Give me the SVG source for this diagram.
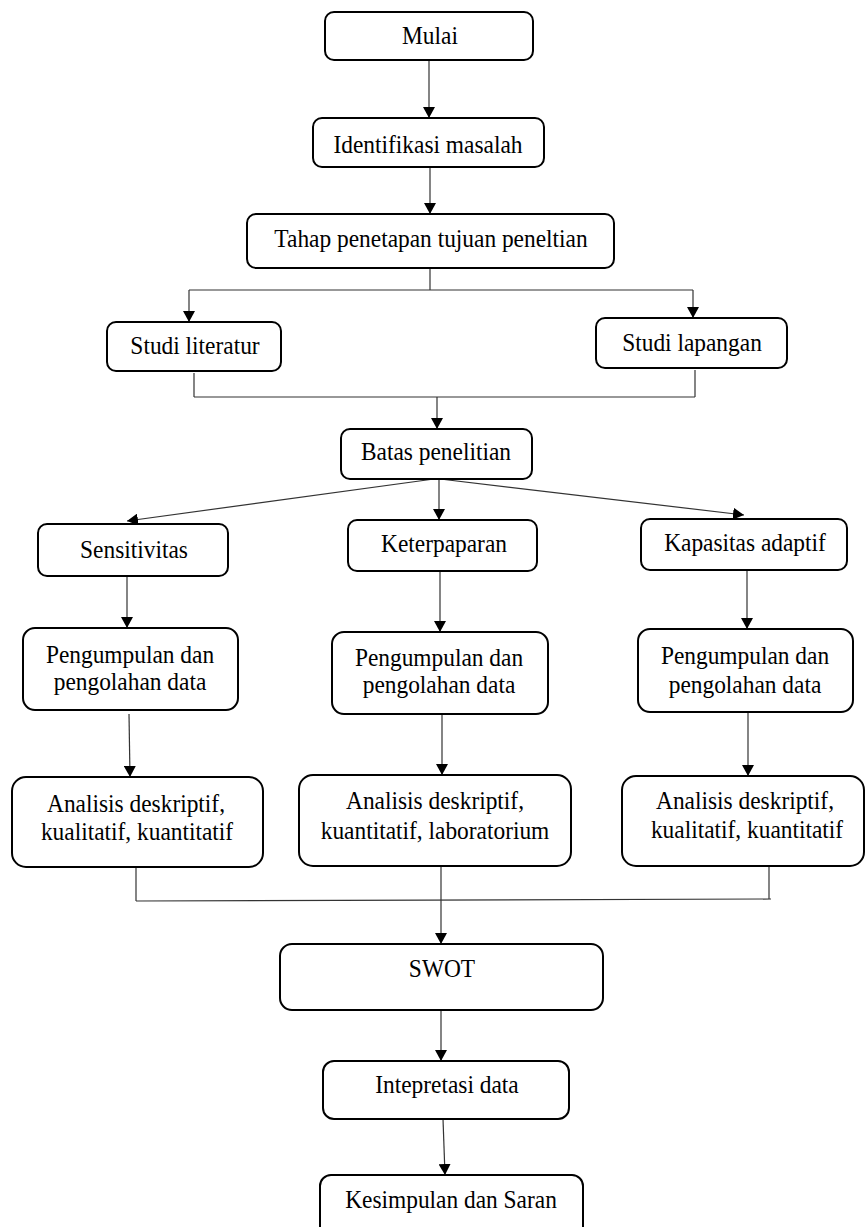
<svg xmlns="http://www.w3.org/2000/svg" width="866" height="1227" viewBox="0 0 866 1227">
<style>
.box{fill:#fff;stroke:#000;stroke-width:2}
.t{font-size:26px;fill:#000;text-anchor:middle}
.c{fill:none;stroke:#333;stroke-width:1.2}
.a{fill:none;stroke:#333;stroke-width:1.2;marker-end:url(#ah)}
</style>
<defs>
<marker id="ah" markerUnits="userSpaceOnUse" markerWidth="12" markerHeight="12" refX="11" refY="6" orient="auto">
<path d="M0,0 L11,6 L0,12 z" fill="#000"/>
</marker>
</defs>
<rect width="866" height="1227" fill="#fff"/>
<g id="connectors">
<line class="a" x1="429" y1="60" x2="429" y2="118"/>
<line class="a" x1="430" y1="167" x2="430" y2="214"/>
<polyline class="c" points="430,268 430,290"/>
<line class="c" x1="189" y1="290" x2="693" y2="290"/>
<line class="a" x1="189" y1="290" x2="189" y2="322"/>
<line class="a" x1="693" y1="290" x2="693" y2="318"/>
<line class="c" x1="194" y1="373" x2="194" y2="397"/>
<line class="c" x1="695" y1="370" x2="695" y2="397"/>
<line class="c" x1="194" y1="397" x2="695" y2="397"/>
<line class="a" x1="437" y1="397" x2="437" y2="429"/>
<line class="a" x1="434" y1="479" x2="127" y2="521"/>
<line class="a" x1="439" y1="479" x2="439" y2="520"/>
<line class="a" x1="440" y1="479" x2="744" y2="515"/>
<line class="a" x1="127" y1="576" x2="127" y2="628"/>
<line class="a" x1="440" y1="571" x2="440" y2="632"/>
<line class="a" x1="747" y1="570" x2="747" y2="629"/>
<line class="a" x1="129" y1="714" x2="130" y2="777"/>
<line class="a" x1="442" y1="714" x2="442" y2="775"/>
<line class="a" x1="748" y1="712" x2="748" y2="776"/>
<line class="c" x1="136" y1="867" x2="136" y2="901"/>
<line class="c" x1="769" y1="866" x2="769" y2="899"/>
<line class="c" x1="136" y1="901" x2="771" y2="899"/>
<line class="a" x1="441" y1="866" x2="441" y2="944"/>
<line class="a" x1="441" y1="1010" x2="441" y2="1061"/>
<line class="a" x1="443" y1="1119" x2="445" y2="1175"/>
</g>
<g font-family="'Liberation Serif', 'Times New Roman', 'DejaVu Serif', serif">
<g id="mulai"><rect class="box" x="325" y="12" width="208" height="48" rx="9"/><text class="t" transform="translate(430,44) scale(0.9,1)">Mulai</text></g>
<g id="identifikasi"><rect class="box" x="313" y="118" width="231" height="49" rx="9"/><text class="t" transform="translate(428,153) scale(0.9,1)">Identifikasi masalah</text></g>
<g id="tahap"><rect class="box" x="247" y="214" width="367" height="54" rx="9"/><text class="t" transform="translate(431,247) scale(0.9,1)">Tahap penetapan tujuan peneltian</text></g>
<g id="studi-literatur"><rect class="box" x="107" y="322" width="174" height="49" rx="9"/><text class="t" transform="translate(195,354) scale(0.9,1)">Studi literatur</text></g>
<g id="studi-lapangan"><rect class="box" x="596" y="318" width="191" height="50" rx="9"/><text class="t" transform="translate(692,351) scale(0.9,1)">Studi lapangan</text></g>
<g id="batas"><rect class="box" x="341" y="429" width="191" height="50" rx="9"/><text class="t" transform="translate(436,460) scale(0.9,1)">Batas penelitian</text></g>
<g id="sensitivitas"><rect class="box" x="38" y="524" width="190" height="52" rx="9"/><text class="t" transform="translate(134,558) scale(0.9,1)">Sensitivitas</text></g>
<g id="keterpaparan"><rect class="box" x="348" y="520" width="189" height="51" rx="9"/><text class="t" transform="translate(444,552) scale(0.9,1)">Keterpaparan</text></g>
<g id="kapasitas"><rect class="box" x="641" y="519" width="206" height="51" rx="9"/><text class="t" transform="translate(745,551) scale(0.9,1)">Kapasitas adaptif</text></g>
<g id="pengumpulan-1"><rect class="box" x="23" y="628" width="215" height="82" rx="12"/><text class="t" transform="translate(130,663) scale(0.9,1)">Pengumpulan dan</text><text class="t" transform="translate(130,690) scale(0.9,1)">pengolahan data</text></g>
<g id="pengumpulan-2"><rect class="box" x="332" y="632" width="216" height="82" rx="12"/><text class="t" transform="translate(439,666) scale(0.9,1)">Pengumpulan dan</text><text class="t" transform="translate(439,693) scale(0.9,1)">pengolahan data</text></g>
<g id="pengumpulan-3"><rect class="box" x="638" y="629" width="215" height="83" rx="12"/><text class="t" transform="translate(745,664) scale(0.9,1)">Pengumpulan dan</text><text class="t" transform="translate(745,693) scale(0.9,1)">pengolahan data</text></g>
<g id="analisis-1"><rect class="box" x="12" y="777" width="251" height="90" rx="14"/><text class="t" transform="translate(136,812) scale(0.9,1)">Analisis deskriptif,</text><text class="t" transform="translate(137,840) scale(0.9,1)">kualitatif, kuantitatif</text></g>
<g id="analisis-2"><rect class="box" x="299" y="775" width="272" height="91" rx="14"/><text class="t" transform="translate(435,809) scale(0.9,1)">Analisis deskriptif,</text><text class="t" transform="translate(435,839) scale(0.9,1)">kuantitatif, laboratorium</text></g>
<g id="analisis-3"><rect class="box" x="622" y="776" width="242" height="90" rx="14"/><text class="t" transform="translate(745,809) scale(0.9,1)">Analisis deskriptif,</text><text class="t" transform="translate(747,838) scale(0.9,1)">kualitatif, kuantitatif</text></g>
<g id="swot"><rect class="box" x="280" y="944" width="323" height="66" rx="12"/><text class="t" transform="translate(442,977) scale(0.9,1)">SWOT</text></g>
<g id="intepretasi"><rect class="box" x="323" y="1061" width="246" height="58" rx="11"/><text class="t" transform="translate(447,1093) scale(0.9,1)">Intepretasi data</text></g>
<g id="kesimpulan"><rect class="box" x="320" y="1175" width="263" height="62" rx="11"/><text class="t" transform="translate(451,1208) scale(0.9,1)">Kesimpulan dan Saran</text></g>
</g>
</svg>
